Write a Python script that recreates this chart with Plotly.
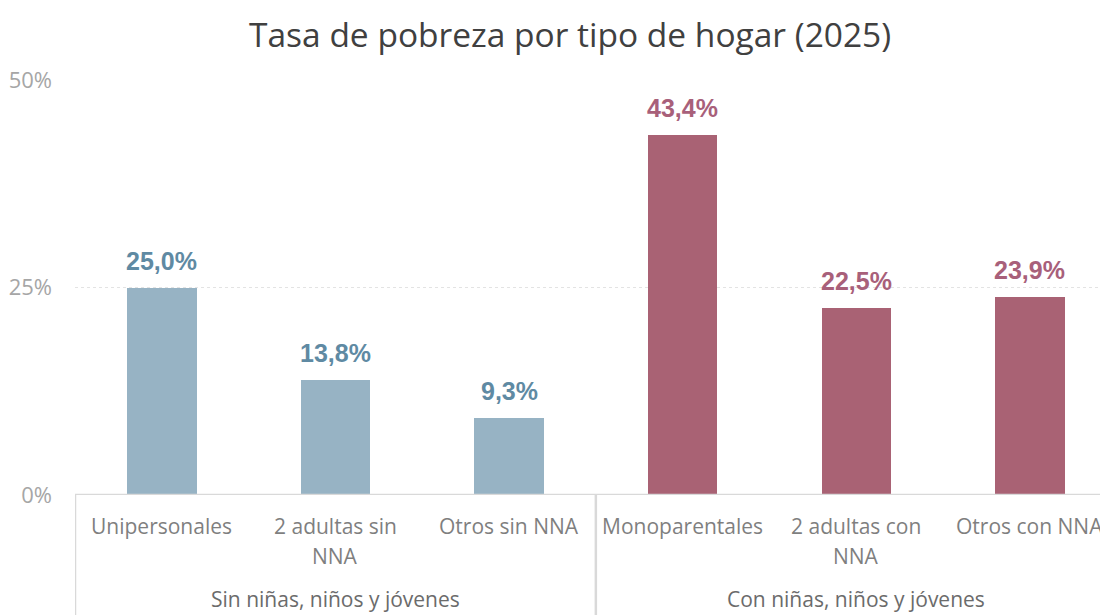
import plotly.graph_objects as go

categories = ["Unipersonales", "2 adultas sin<br>NNA", "Otros sin NNA",
              "Monoparentales", "2 adultas con<br>NNA", "Otros con NNA"]
values = [25.0, 13.8, 9.3, 43.4, 22.5, 23.9]
groups = ["Sin niñas, niños y jóvenes", "Con niñas, niños y jóvenes"]
group_of = [0, 0, 0, 1, 1, 1]
tick_vals = [0, 25, 50]
tick_text = ["0%", "25%", "50%"]

bar_colors = ["#97b3c4", "#a96274"]
label_colors = ["#5f8aa3", "#a8607a"]

x = list(range(len(categories)))
fig = go.Figure()
fig.add_trace(go.Bar(
    x=x, y=values, width=0.4,
    marker=dict(color=[bar_colors[g] for g in group_of], line=dict(width=0)),
    hoverinfo="skip",
))

FONT = "Open Sans"
ann = []
for i, v in enumerate(values):
    ann.append(dict(x=i, y=v, xref="x", yref="y", text=f"<b>{v:.1f}%</b>".replace(".", ","),
                    showarrow=False, yanchor="middle", yshift=27,
                    font=dict(family="Liberation Sans, Arial", size=25, color=label_colors[group_of[i]])))
    for k, line in enumerate(categories[i].split("<br>")):
        ann.append(dict(x=i, y=0, xref="x", yref="paper", text=line, showarrow=False,
                        yanchor="middle", yshift=-31 - 30 * k, align="center",
                        font=dict(family=FONT, size=21, color="#7f7f7f")))
for gi, name in enumerate(groups):
    idx = [i for i in x if group_of[i] == gi]
    cx = (idx[0] + idx[-1]) / 2
    ann.append(dict(x=cx, y=0, xref="x", yref="paper", text=name, showarrow=False,
                    yanchor="middle", yshift=-104,
                    font=dict(family=FONT, size=21, color="#6b6b6b")))

shapes = [
    dict(type="line", xref="paper", yref="y", x0=0, x1=1, y0=0, y1=0,
         line=dict(color="#d9d9d9", width=2.5)),
    dict(type="line", xref="x", yref="paper", x0=-0.5, x1=-0.5, y0=0, y1=-0.3,
         line=dict(color="#d9d9d9", width=2.5)),
    dict(type="line", xref="x", yref="paper", x0=2.5, x1=2.5, y0=0, y1=-0.3,
         line=dict(color="#d9d9d9", width=2.5)),
]

# The page body has an 8px default margin, so the figure is sized to fit the window.
fig.update_layout(
    width=1100, height=607,
    margin=dict(l=67, r=0, t=72, b=120),
    paper_bgcolor="white", plot_bgcolor="white",
    separators=",.",
    title=dict(text="Tasa de pobreza por tipo de hogar (2025)", x=0.511, xanchor="center",
               y=0.955, yanchor="middle",
               font=dict(family=FONT, size=33.5, color="#404040")),
    xaxis=dict(range=[-0.5, 5.45], showticklabels=False, showgrid=False, zeroline=False,
               showline=False, fixedrange=True),
    yaxis=dict(range=[0, 50], tickvals=tick_vals, ticktext=tick_text, automargin=False,
               showgrid=True, gridcolor="#e3e3e3", griddash="dot", gridwidth=1,
               zeroline=False, showline=False, ticks="", ticklabelstandoff=22,
               tickfont=dict(family=FONT, size=22, color="#a6a6a6")),
    annotations=ann, shapes=shapes, showlegend=False, bargap=0,
)
fig.write_html("out.html")
